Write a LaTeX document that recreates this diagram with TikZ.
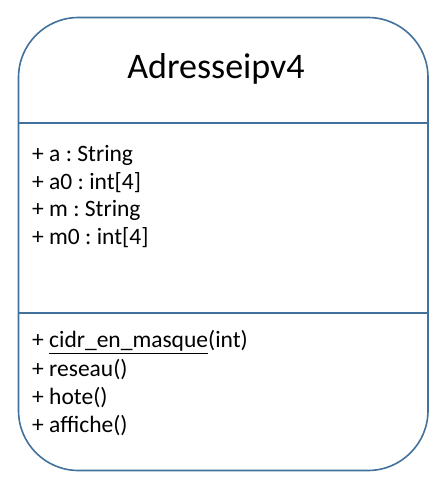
\documentclass[tikz,border=0pt]{standalone}
\usepackage{fontspec}
\setmainfont{Carlito}
\usepackage{tikz}
\definecolor{umlblue}{HTML}{41719C}
\frenchspacing

\begin{document}
\begin{tikzpicture}[x=1pt,y=-1pt]
\useasboundingbox (0,0) rectangle (440,485);
\tikzset{member/.style={anchor=west,inner sep=0pt,font=\fontsize{23.5}{26}\selectfont}}
\draw[color=umlblue,line width=1.6pt,rounded corners=60pt] (18.5,17.5) rectangle (428,470.5);
\draw[color=umlblue,line width=1.6pt] (18.5,123) -- (428,123);
\draw[color=umlblue,line width=1.6pt] (18.5,313) -- (428,313);
\node[inner sep=0pt,font=\fontsize{36}{40}\selectfont] (title) at (216,69) {Adresseipv4};
\node[member] (a) at (32,155) {+ a : String};
\node[member] (a0) at (32,183) {+ a0 : int[4]};
\node[member] (m) at (32,210) {+ m : String};
\node[member] (m0) at (32,238) {+ m0 : int[4]};
\node[member] (cidr) at (32,342) {+ \underline{cidr\_en\_masque}(int)};
\node[member] (reseau) at (32,370) {+ reseau()};
\node[member] (hote) at (32,398) {+ hote()};
\node[member] (affiche) at (32,426) {+ affiche()};
\end{tikzpicture}
\end{document}
